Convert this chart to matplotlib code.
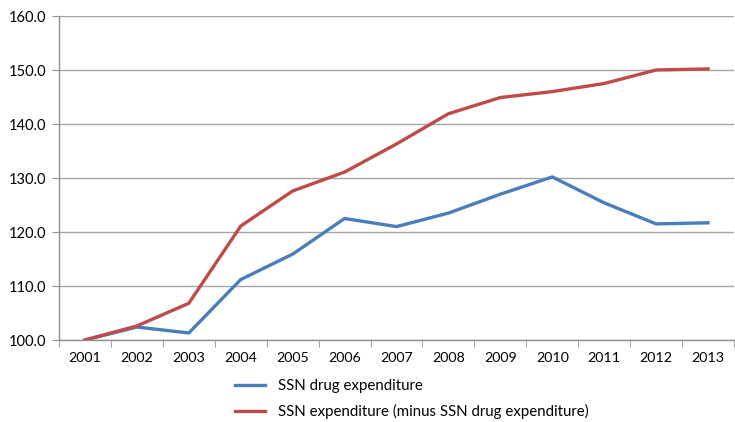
import matplotlib.pyplot as plt
import numpy as np

# Index values (2001 = 100)
years = ['2001', '2002', '2003', '2004', '2005', '2006', '2007',
         '2008', '2009', '2010', '2011', '2012', '2013']
drug_exp = [100.0, 102.4, 101.3, 111.2, 115.9, 122.5, 121.0,
            123.5, 127.0, 130.2, 125.4, 121.5, 121.7]
other_exp = [100.0, 102.6, 106.8, 121.1, 127.6, 131.1, 136.3,
             141.9, 144.9, 146.0, 147.5, 150.0, 150.2]

plt.rcParams['font.family'] = ['Lato', 'DejaVu Sans']

fig = plt.figure(figsize=(7.35, 4.22), dpi=100)
ax = fig.add_axes([59 / 735, 82 / 422, 675 / 735, 324 / 422])

x = np.arange(len(years))
ax.plot(x, drug_exp, color='#4a7ebb', lw=2.4, label='SSN drug expenditure')
ax.plot(x, other_exp, color='#be4b48', lw=2.4,
        label='SSN expenditure (minus SSN drug expenditure)')

ax.set_xlim(-0.5, len(years) - 0.5)
ax.set_ylim(100, 160)
ax.set_yticks(np.arange(100, 161, 10))
ax.set_yticklabels([f'{v:.1f}' for v in np.arange(100, 161, 10)], fontsize=10.5)
ax.set_xticks(x)
ax.set_xticklabels(years, fontsize=10.3)
ax.set_xticks(np.arange(-0.5, len(years), 1), minor=True)
ax.tick_params(axis='x', which='major', length=0, pad=9)
ax.tick_params(axis='x', which='minor', length=5, color='#909090', direction='out')
ax.tick_params(axis='y', length=5, color='#909090', pad=4)

ax.grid(axis='y', color='#a6a6a6', lw=1)
ax.set_axisbelow(True)
for side in ['top', 'right']:
    ax.spines[side].set_visible(False)
for side in ['left', 'bottom']:
    ax.spines[side].set_color('#909090')
    ax.spines[side].set_linewidth(1)

fig.legend(loc='upper left', bbox_to_anchor=(226 / 735, 1 - 370 / 422),
           frameon=False, fontsize=10.8, handlelength=2.0, labelspacing=0.72,
           handletextpad=0.9, borderaxespad=0.2)

fig.savefig('out.png', dpi=100)
